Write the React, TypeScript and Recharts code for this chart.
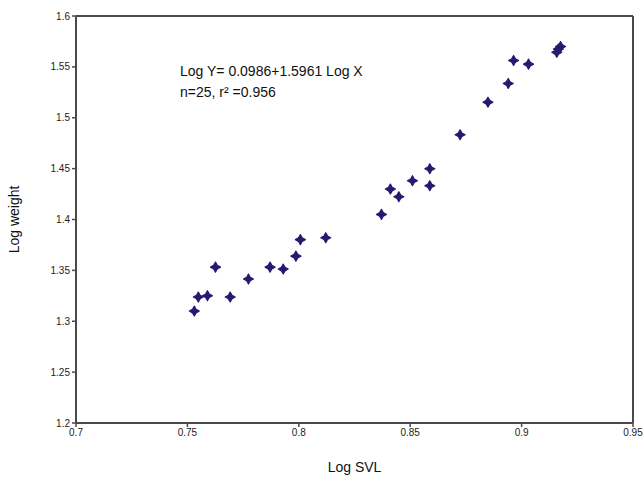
import React from 'react';
import { ScatterChart, Scatter, XAxis, YAxis, ReferenceLine } from 'recharts';

const logSvl = [
  0.7531, 0.7549, 0.759, 0.7626, 0.7692, 0.7774, 0.7871, 0.793, 0.7987, 0.8007,
  0.8121, 0.8371, 0.8411, 0.8449, 0.851, 0.8588, 0.8588, 0.8724, 0.8849, 0.894,
  0.8964, 0.9031, 0.9158, 0.9165, 0.9175,
];
const logWeight = [
  1.31, 1.3238, 1.3251, 1.3532, 1.3238, 1.3415, 1.3532, 1.3513, 1.364, 1.3802,
  1.3821, 1.405, 1.4299, 1.4224, 1.4381, 1.4499, 1.4332, 1.4833, 1.5153, 1.5337,
  1.5563, 1.5527, 1.5643, 1.5675, 1.57,
];
const xTicks = [0.7, 0.75, 0.8, 0.85, 0.9, 0.95];
const yTicks = [1.2, 1.25, 1.3, 1.35, 1.4, 1.45, 1.5, 1.55, 1.6];

const points = logSvl.map((x, i) => ({ x, y: logWeight[i] }));

const MARK = '#261a70';
const AXIS = '#4a4a4a';
const FONT = '"Liberation Sans", Arial, sans-serif';

// four-pointed star marker like the original plot
const Star = (props: any) => {
  const { cx, cy } = props;
  if (cx == null || cy == null) return null;
  const r = 5;
  const k = 1.8;
  const d = `M${cx},${cy - r} L${cx + k},${cy - k} L${cx + r},${cy} L${cx + k},${cy + k} L${cx},${cy + r} L${cx - k},${cy + k} L${cx - r},${cy} L${cx - k},${cy - k} Z`;
  return <path d={d} fill={MARK} stroke={MARK} strokeWidth={1.2} strokeLinejoin="round" />;
};

export default function App() {
  return (
    <div style={{ position: 'absolute', left: 0, top: 0, width: 644, height: 483, background: '#fff', fontFamily: FONT }}>
      <ScatterChart width={644} height={483} margin={{ top: 16, right: 11, bottom: 0, left: 0 }}>
        <XAxis
          type="number"
          dataKey="x"
          domain={[0.7, 0.95]}
          ticks={xTicks}
          interval={0}
          height={60}
          tickLine={{ stroke: AXIS, strokeWidth: 1.5 }}
          tickSize={4}
          axisLine={{ stroke: AXIS, strokeWidth: 2 }}
          tick={{ fill: '#222', fontSize: 10, fontFamily: FONT }}
          tickFormatter={(v: number) => String(v)}
          label={{ value: 'Log SVL', position: 'insideBottom', offset: 11, fill: '#111', fontSize: 14, fontFamily: FONT }}
        />
        <YAxis
          type="number"
          dataKey="y"
          domain={[1.2, 1.6]}
          ticks={yTicks}
          interval={0}
          width={76}
          tickLine={{ stroke: AXIS, strokeWidth: 1.5 }}
          tickSize={4}
          axisLine={{ stroke: AXIS, strokeWidth: 2 }}
          tick={{ fill: '#222', fontSize: 10, fontFamily: FONT }}
          tickFormatter={(v: number) => String(v)}
          label={{ value: 'Log weight', angle: -90, position: 'insideLeft', offset: 14, fill: '#111', fontSize: 14, fontFamily: FONT, style: { textAnchor: 'middle' } }}
        />
        <ReferenceLine y={1.6} stroke={AXIS} strokeWidth={2} />
        <ReferenceLine x={0.95} stroke={AXIS} strokeWidth={2} />
        <Scatter data={points} shape={<Star />} isAnimationActive={false} />
      </ScatterChart>
      <div style={{ position: 'absolute', left: 180, top: 61, fontSize: 14, color: '#111', lineHeight: '21px' }}>
        <div>Log Y= 0.0986+1.5961 Log X</div>
        <div>n=25, r² =0.956</div>
      </div>
    </div>
  );
}
